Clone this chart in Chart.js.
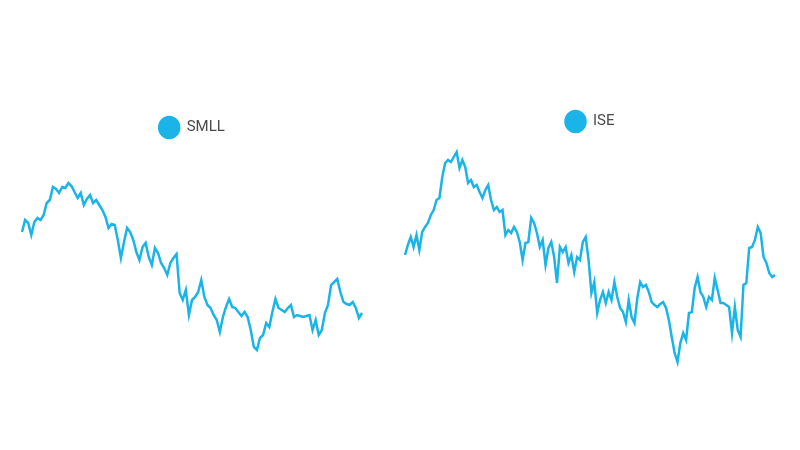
<!DOCTYPE html>
<html>
<head>
<meta charset="utf-8">
<script src="https://cdn.jsdelivr.net/npm/chart.js@4/dist/chart.umd.min.js"></script>
<style>
  html, body { margin: 0; padding: 0; background: #fff; }
  #wrap { position: relative; width: 800px; height: 450px; }
  .pane { position: absolute; top: 0; width: 400px; height: 450px; }
  #paneL { left: 0; }
  #paneR { left: 400px; }
</style>
</head>
<body>
<div id="wrap">
  <div class="pane" id="paneL"><canvas id="chartL" width="400" height="450"></canvas></div>
  <div class="pane" id="paneR"><canvas id="chartR" width="400" height="450"></canvas></div>
</div>
<script>
// Series (relative index level, daily closes)
const SMLL_LABEL = 'SMLL';
const SMLL_VALUES = [
  168, 180, 177, 165, 178, 182, 180, 185, 197, 200,
  213, 211, 207, 213, 212, 217, 214, 208, 202, 207,
  195, 201, 205, 197, 200, 195, 190, 183, 172, 176,
  175, 160, 142, 158, 172, 168, 160, 148, 140, 153,
  157, 143, 135, 152, 147, 137, 132, 125, 137, 142,
  146, 107, 100, 110, 85, 100, 103, 108, 120, 103,
  95, 92, 85, 80, 68, 83, 93, 101, 93, 92,
  88, 84, 88, 83, 70, 53, 50, 62, 65, 77,
  73, 88, 101, 92, 90, 88, 92, 95, 83, 85,
  84, 83, 84, 85, 70, 80, 65, 70, 87, 95,
  115, 118, 121, 108, 98, 96, 95, 98, 92, 82,
  87,
];

const ISE_LABEL = 'ISE';
const ISE_VALUES = [
  145, 155, 163, 153, 165, 150, 168, 173, 177, 185,
  190, 200, 202, 223, 237, 240, 238, 243, 248, 232,
  240, 233, 217, 220, 213, 215, 208, 202, 210, 215,
  200, 190, 193, 188, 190, 165, 170, 167, 173, 168,
  158, 140, 157, 158, 182, 177, 167, 153, 160, 135,
  152, 158, 143, 117, 153, 148, 153, 137, 145, 128,
  143, 140, 158, 163, 140, 107, 118, 87, 100, 108,
  97, 108, 100, 118, 103, 92, 88, 78, 100, 83,
  77, 102, 118, 113, 115, 108, 98, 95, 93, 96,
  98, 92, 80, 63, 47, 38, 57, 67, 60, 87,
  88, 112, 123, 108, 103, 93, 103, 100, 122, 110,
  97, 97, 95, 93, 67, 93, 70, 63, 115, 117,
  152, 153, 160, 173, 167, 143, 137, 127, 123, 125,
];

const LINE_COLOR = '#1AB4E8';

function buildLineChart(canvasId, label, values, pad, yMin, yMax) {
  const ctx = document.getElementById(canvasId);
  return new Chart(ctx, {
    type: 'line',
    data: {
      labels: values.map((_, i) => i + 1),
      datasets: [{
        label,
        data: values,
        borderColor: LINE_COLOR,
        backgroundColor: LINE_COLOR,
        borderWidth: 2.5,
        pointRadius: 0,
        tension: 0,
        fill: false,
      }],
    },
    options: {
      responsive: false,
      animation: false,
      layout: { padding: pad },
      plugins: {
        tooltip: { enabled: false },
        legend: {
          position: 'top',
          labels: {
            usePointStyle: true,
            pointStyle: 'circle',
            pointStyleWidth: 20,
            color: '#4a4a4a',
            font: { family: 'Roboto, sans-serif', size: 15 },
            padding: 10,
          },
        },
      },
      scales: {
        x: { display: false, offset: false },
        y: { display: false, min: yMin, max: yMax },
      },
    },
  });
}

// chart area: top = padding.top + legend (15 + 10 + 10), bottom = 450 - padding.bottom
buildLineChart('chartL', SMLL_LABEL, SMLL_VALUES,
  { top: 110, bottom: 50, left: 22, right: 38 }, 0, 255);
buildLineChart('chartR', ISE_LABEL, ISE_VALUES,
  { top: 104, bottom: 50, left: 5, right: 25 }, 0, 261);
</script>
</body>
</html>
